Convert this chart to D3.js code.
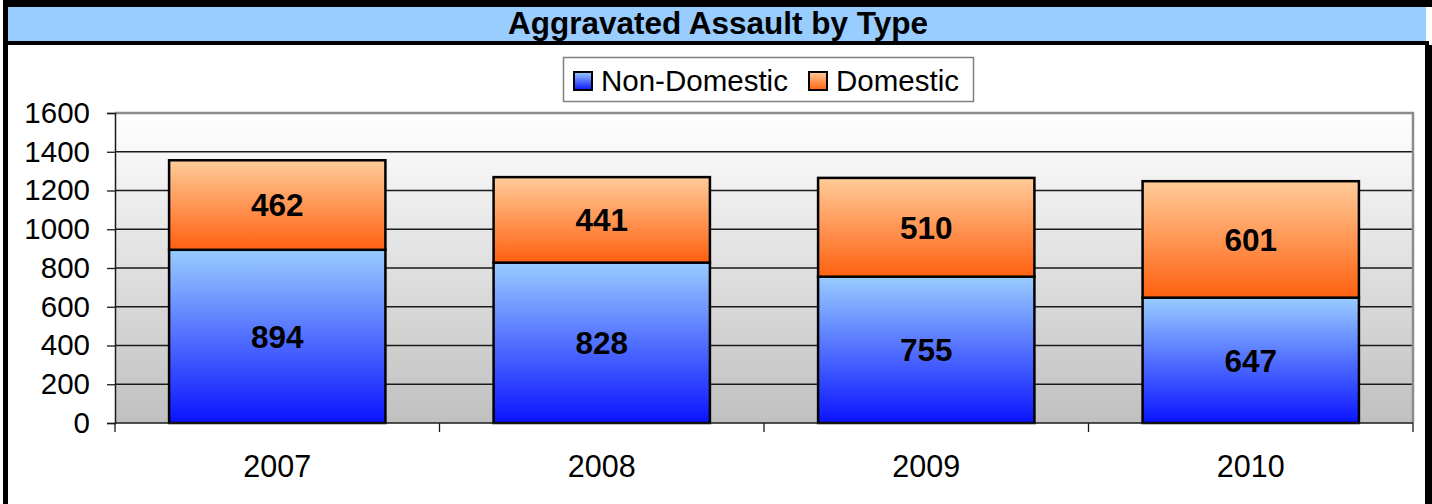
<!DOCTYPE html>
<html>
<head>
<meta charset="utf-8">
<script src="https://cdn.jsdelivr.net/npm/d3@7"></script>
<style>
  html, body { margin: 0; padding: 0; background: #ffffff; }
  svg { display: block; font-family: "Liberation Sans", Arial, sans-serif; }
</style>
</head>
<body>
<svg id="chart" width="1432" height="504"></svg>
<script>
const title = "Aggravated Assault by Type";
const years = ["2007", "2008", "2009", "2010"];
const nonDomestic = [894, 828, 755, 647];
const domestic = [462, 441, 510, 601];
const seriesNames = ["Non-Domestic", "Domestic"];
const yTicks = [0, 200, 400, 600, 800, 1000, 1200, 1400, 1600];

(function () {
const svg = d3.select("#chart");
const W = 1432, H = 504;

const defs = svg.append("defs");
function vGrad(id, c0, c1) {
  const g = defs.append("linearGradient").attr("id", id)
    .attr("x1", 0).attr("y1", 0).attr("x2", 0).attr("y2", 1);
  g.append("stop").attr("offset", "0%").attr("stop-color", c0);
  g.append("stop").attr("offset", "100%").attr("stop-color", c1);
}
vGrad("gPlot", "#ffffff", "#c0c0c0");
vGrad("gBlue", "#99ccff", "#0a14ff");
vGrad("gOrange", "#ffcc99", "#ff6010");

// Frame
svg.append("rect").attr("x", 8).attr("y", 7).attr("width", 1418).attr("height", 34).attr("fill", "#99ccff");
svg.append("rect").attr("x", 3).attr("y", 0).attr("width", W - 3).attr("height", 7).attr("fill", "#000");
svg.append("rect").attr("x", 3).attr("y", 41).attr("width", 1426).attr("height", 4).attr("fill", "#000");
svg.append("rect").attr("x", 3).attr("y", 0).attr("width", 5).attr("height", H).attr("fill", "#000");
svg.append("rect").attr("x", 1425).attr("y", 45).attr("width", 7).attr("height", H - 45).attr("fill", "#000");

svg.append("text").attr("x", 718).attr("y", 34).attr("text-anchor", "middle")
  .attr("font-weight", "bold").attr("font-size", 31.5).attr("fill", "#000").text(title);

// Plot area
const pL = 115, pR = 1413, pT = 113, pB = 423;
const x = d3.scaleBand().domain(years).range([pL, pR]).paddingInner(1/3).paddingOuter(1/6);
const xb = d3.scaleBand().domain(years).range([pL, pR]);
const y = d3.scaleLinear().domain([0, 1600]).range([pB, pT]);

svg.append("rect").attr("x", pL).attr("y", pT).attr("width", pR - pL).attr("height", pB - pT)
  .attr("fill", "url(#gPlot)");

// gridlines
svg.append("g").selectAll("line").data(yTicks.filter(d => d > 0 && d < 1600)).join("line")
  .attr("x1", pL).attr("x2", pR).attr("y1", d => y(d)).attr("y2", d => y(d))
  .attr("stroke", "#1a1a1a").attr("stroke-width", 1.3);

// plot border top/right
svg.append("path").attr("d", `M${pL},${pT}H${pR}V${pB}`).attr("fill", "none")
  .attr("stroke", "#8c8c8c").attr("stroke-width", 2.5);

// Stacked bars
const stackData = years.map((yr, i) => ({ year: yr, "Non-Domestic": nonDomestic[i], "Domestic": domestic[i] }));
const stacked = d3.stack().keys(seriesNames)(stackData);
const fills = { "Non-Domestic": "url(#gBlue)", "Domestic": "url(#gOrange)" };

const layers = svg.append("g").selectAll("g").data(stacked).join("g");
layers.selectAll("rect").data(d => d.map(v => ({ key: d.key, v }))).join("rect")
  .attr("x", d => x(d.v.data.year))
  .attr("width", x.bandwidth())
  .attr("y", d => y(d.v[1]))
  .attr("height", d => y(d.v[0]) - y(d.v[1]))
  .attr("fill", d => fills[d.key])
  .attr("stroke", "#000").attr("stroke-width", 2.5);

layers.selectAll("text").data(d => d.map(v => ({ key: d.key, v }))).join("text")
  .attr("x", d => x(d.v.data.year) + x.bandwidth() / 2)
  .attr("y", d => (y(d.v[0]) + y(d.v[1])) / 2)
  .attr("dy", "0.36em")
  .attr("text-anchor", "middle")
  .attr("font-weight", "bold").attr("font-size", 31.5).attr("fill", "#000")
  .text(d => d.v[1] - d.v[0]);

// Y axis
const yAxis = d3.axisLeft(y).tickValues(yTicks).tickSize(8).tickPadding(17).tickFormat(d3.format("d"));
const yg = svg.append("g").attr("transform", `translate(${pL},0)`).call(yAxis);
yg.select(".domain").attr("stroke", "#1a1a1a").attr("stroke-width", 1.5);
yg.selectAll(".tick line").attr("stroke", "#1a1a1a").attr("stroke-width", 1.3);
yg.selectAll(".tick text").attr("font-size", 29.5).attr("font-family", "Liberation Sans, Arial, sans-serif").attr("fill", "#000");

// X axis
svg.append("line").attr("x1", pL).attr("x2", pR).attr("y1", pB).attr("y2", pB)
  .attr("stroke", "#1a1a1a").attr("stroke-width", 1.5);
const bounds = years.map(yr => xb(yr)).concat([pR]);
svg.append("g").selectAll("line").data(bounds).join("line")
  .attr("x1", d => d).attr("x2", d => d).attr("y1", pB).attr("y2", pB + 9)
  .attr("stroke", "#1a1a1a").attr("stroke-width", 1.3);
svg.append("g").selectAll("text").data(years).join("text")
  .attr("x", d => xb(d) + xb.bandwidth() / 2).attr("y", 477)
  .attr("text-anchor", "middle").attr("font-size", 30.5).attr("fill", "#000").text(d => d);

// Legend
const lg = svg.append("g");
lg.append("rect").attr("x", 563.5).attr("y", 57.5).attr("width", 410).attr("height", 44)
  .attr("fill", "#fff").attr("stroke", "#808080").attr("stroke-width", 1.5);
const legendItems = [
  { name: seriesNames[0], fill: "url(#gBlue)", sx: 574, tx: 601 },
  { name: seriesNames[1], fill: "url(#gOrange)", sx: 809, tx: 836 }
];
legendItems.forEach(it => {
  lg.append("rect").attr("x", it.sx).attr("y", 72).attr("width", 18).attr("height", 18)
    .attr("fill", it.fill).attr("stroke", "#000").attr("stroke-width", 2);
  lg.append("text").attr("x", it.tx).attr("y", 91).attr("font-size", 29.5).attr("fill", "#000").text(it.name);
});
})();
</script>
</body>
</html>
